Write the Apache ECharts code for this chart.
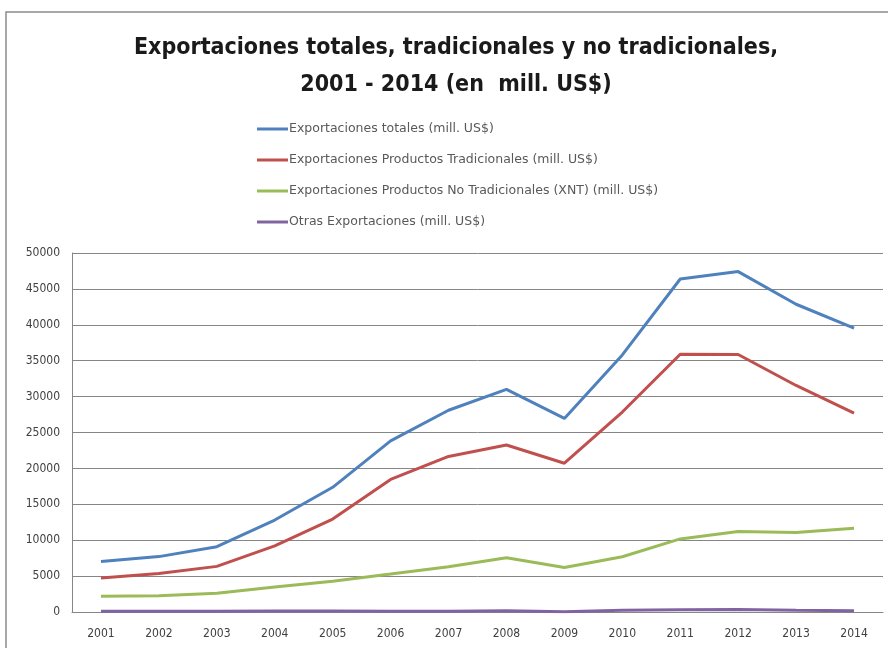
<!DOCTYPE html>
<html><head><meta charset="utf-8">
<script src="https://cdn.jsdelivr.net/npm/echarts@6/dist/echarts.min.js"></script>
<style>html,body{margin:0;padding:0;background:#fff}#c{width:888px;height:648px}</style>
</head><body><div id="c"></div>
<script>
const years = ['2001','2002','2003','2004','2005','2006','2007','2008','2009','2010','2011','2012','2013','2014'];
const totales = [7026, 7714, 9091, 12809, 17368, 23830, 28094, 31018, 26962, 35803, 46376, 47411, 42861, 39533];
const tradicionales = [4730, 5369, 6356, 9199, 12950, 18461, 21666, 23266, 20720, 27850, 35896, 35869, 31553, 27686];
const noTradicionales = [2183, 2256, 2620, 3479, 4277, 5279, 6313, 7562, 6196, 7699, 10176, 11197, 11069, 11677];
const otras = [113, 89, 115, 131, 141, 91, 114, 190, 46, 254, 304, 345, 239, 170];
const yTicks = {min: 0, max: 50000, interval: 5000};
const names = ['Exportaciones totales (mill. US$)', 'Exportaciones Productos Tradicionales (mill. US$)', 'Exportaciones Productos No Tradicionales (XNT) (mill. US$)', 'Otras Exportaciones (mill. US$)'];
const colors = ['#4F81BD', '#C0504D', '#9BBB59', '#8064A2'];
const seriesData = [totales, tradicionales, noTradicionales, otras];

const chart = echarts.init(document.getElementById('c'));
chart.setOption({
  animation: false,
  color: colors,
  title: {
    text: 'Exportaciones totales, tradicionales y no tradicionales,\n2001 - 2014 (en  mill. US$)',
    left: 451, textAlign: 'center', top: 25,
    textStyle: {fontFamily: 'DejaVu Sans Condensed', fontWeight: 'bold', fontSize: 23, lineHeight: 37, color: '#1a1a1a'}
  },
  legend: {
    orient: 'vertical', left: 252, top: 117, itemGap: 17, itemWidth: 31, itemHeight: 3, icon: 'rect',
    textStyle: {fontFamily: 'DejaVu Sans', fontSize: 12.5, color: '#595959', padding: [0,0,0,-4], lineHeight: 14},
    data: names
  },
  graphic: [{type: 'rect', shape: {x: 6, y: 12, width: 900, height: 700}, style: {fill: 'none', stroke: '#8c8c8c', lineWidth: 1.5}, silent: true}],
  grid: {left: 72, right: 5, top: 253, bottom: 36},
  xAxis: {
    type: 'category', data: years, boundaryGap: true,
    axisLine: {lineStyle: {color: '#868686'}}, axisTick: {show: false},
    axisLabel: {fontFamily: 'DejaVu Sans Condensed', fontSize: 12, color: '#404040', margin: 16}
  },
  yAxis: {
    type: 'value', min: yTicks.min, max: yTicks.max, interval: yTicks.interval,
    axisLine: {show: true, lineStyle: {color: '#868686'}}, axisTick: {show: false},
    splitLine: {lineStyle: {color: '#868686', width: 1}},
    axisLabel: {fontFamily: 'DejaVu Sans Condensed', fontSize: 12, color: '#404040', margin: 12, formatter: v => String(v)}
  },
  series: seriesData.map((d, i) => ({
    name: names[i], type: 'line', data: d, smooth: false, showSymbol: false, symbol: 'none',
    lineStyle: {width: 3, color: colors[i]}, itemStyle: {color: colors[i]}
  }))
});
</script></body></html>
